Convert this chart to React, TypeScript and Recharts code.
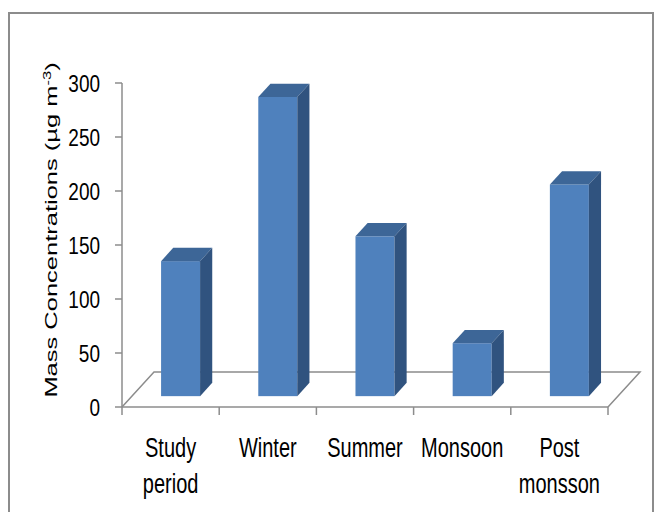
import React from "react";
import * as RC from "recharts";
import { BarChart, Bar, XAxis, YAxis } from "recharts";

const categories = ["Study period", "Winter", "Summer", "Monsoon", "Post monsson"];
const massConc = [125, 277, 148, 49, 196];
const yTicks = [0, 50, 100, 150, 200, 250, 300];

const W = 660;
const H = 512;
const margin = { top: 83, right: 52, bottom: 45, left: 62 };
const Y_W = 60;
const X_H = 60;

// fake 3d: depth of the floor, and where the columns sit inside it
const DEPTH = { dx: 32, dy: 35 };
const FRONT = 0.31;
const BACK = 0.69;

const GREY = "#8c8c8c";
const FRONT_C = "#4f81bd";
const TOP_C = "#3d6697";
const SIDE_C = "#30537f";
const FONT = "'Liberation Sans', Arial, sans-serif";

const data = categories.map((name, i) => ({ name, value: massConc[i] }));

function Prism(props: any) {
  const { x, y, width, height } = props;
  if (!height) return null;
  const fx = x + DEPTH.dx * FRONT;
  const fy = y - DEPTH.dy * FRONT;
  const bx = DEPTH.dx * (BACK - FRONT);
  const by = DEPTH.dy * (BACK - FRONT);
  return (
    <g>
      <rect x={fx} y={fy} width={width} height={height} fill={FRONT_C} />
      <polygon
        points={`${fx},${fy} ${fx + bx},${fy - by} ${fx + width + bx},${fy - by} ${fx + width},${fy}`}
        fill={TOP_C}
      />
      <polygon
        points={`${fx + width},${fy} ${fx + width + bx},${fy - by} ${fx + width + bx},${fy - by + height} ${fx + width},${fy + height}`}
        fill={SIDE_C}
      />
    </g>
  );
}

function Floor() {
  const hook = (RC as any).usePlotArea;
  const area = hook ? hook() : null;
  const left = area?.x ?? margin.left + Y_W;
  const top = area?.y ?? margin.top;
  const width = area?.width ?? W - margin.left - Y_W - margin.right;
  const height = area?.height ?? H - margin.top - margin.bottom - X_H;
  const bottom = top + height;
  const right = left + width;
  const step = width / categories.length;
  return (
    <g>
      <polyline
        points={`${left},${bottom} ${left + DEPTH.dx},${bottom - DEPTH.dy} ${right + DEPTH.dx},${bottom - DEPTH.dy} ${right},${bottom}`}
        fill="none"
        stroke={GREY}
        strokeWidth={1.5}
      />
      {categories.concat("").map((_, i) => (
        <line key={i} x1={left + i * step} x2={left + i * step} y1={bottom} y2={bottom + 8} stroke={GREY} strokeWidth={1.5} />
      ))}
    </g>
  );
}

function YTick(props: any) {
  const { x, y, payload } = props;
  return (
    <text transform={`translate(${x},${y}) scale(1,1.3)`} y={6.8} textAnchor="end" fontSize={19} fontFamily={FONT} fill="#000">
      {payload.value}
    </text>
  );
}

function XTick(props: any) {
  const { x, y, payload } = props;
  const words = String(payload.value).split(" ");
  return (
    <text transform={`translate(${x},${y}) scale(1,1.4)`} textAnchor="middle" fontSize={20} fontFamily={FONT} fill="#000">
      {words.map((w, i) => (
        <tspan key={i} x={0} y={35.7 + i * 25.7}>
          {w}
        </tspan>
      ))}
    </text>
  );
}

function YLabel(props: any) {
  const vb = props.viewBox || { x: margin.left, y: margin.top, height: 324 };
  const cx = vb.x - 5;
  const cy = vb.y + vb.height / 2 - 15;
  return (
    <text transform={`translate(${cx},${cy}) rotate(-90) scale(1.5,1)`} textAnchor="middle" fontSize={17} fontFamily={FONT} fill="#000">
      Mass Concentrations (µg m
      <tspan fontSize={11} dy={-6}>-3</tspan>
      <tspan dy={6}>)</tspan>
    </text>
  );
}

export default function App() {
  return (
    <div style={{ position: "absolute", left: 0, top: 0, width: W, height: H, background: "#fff", overflow: "hidden" }}>
      <div
        style={{
          position: "absolute",
          left: 8,
          top: 12,
          width: 646,
          height: 520,
          border: `2px solid ${GREY}`,
          boxSizing: "border-box",
        }}
      />
      <div style={{ position: "absolute", left: 0, top: 0 }}>
        <BarChart width={W} height={H} data={data} margin={margin} barCategoryGap="30%">
          <Floor />
          <XAxis
            dataKey="name"
            height={X_H}
            axisLine={{ stroke: GREY, strokeWidth: 1.5 }}
            tickLine={false}
            tickSize={0}
            tickMargin={0}
            interval={0}
            tick={<XTick />}
          />
          <YAxis
            width={Y_W}
            domain={[0, 300]}
            ticks={yTicks}
            interval={0}
            axisLine={{ stroke: GREY, strokeWidth: 1.5 }}
            tickLine={{ stroke: GREY, strokeWidth: 1.5 }}
            tickSize={7}
            tickMargin={15}
            tick={<YTick />}
            label={{ content: YLabel }}
          />
          <Bar dataKey="value" shape={<Prism />} isAnimationActive={false} />
        </BarChart>
      </div>
    </div>
  );
}
